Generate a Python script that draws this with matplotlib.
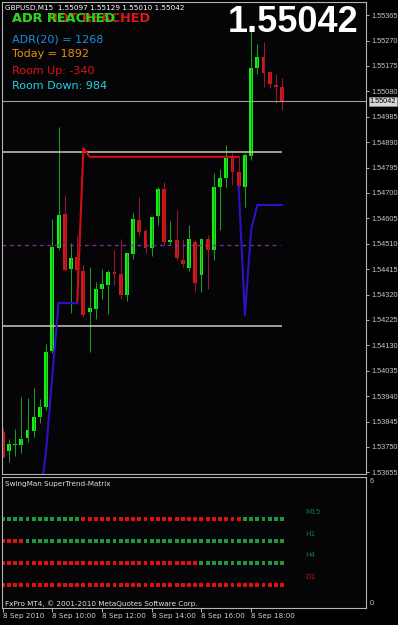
import numpy as np
import matplotlib
matplotlib.use('Agg')
import matplotlib.pyplot as plt
import matplotlib.transforms as mtransforms

W, H = 398, 625

# GBPUSD M15, 8 Sep 2010 08:00 .. 19:15
opens = [1.53806, 1.53735, 1.53756, 1.53757, 1.53783, 1.53810, 1.53863, 1.53898, 1.54109, 1.54495,
         1.54620, 1.54415, 1.54461, 1.54408, 1.54255, 1.54266, 1.54341, 1.54355, 1.54404, 1.54398,
         1.54319, 1.54471, 1.54599, 1.54557, 1.54495, 1.54615, 1.54714, 1.54516, 1.54524, 1.54449,
         1.54419, 1.54517, 1.54393, 1.54526, 1.54486, 1.54723, 1.54757, 1.54835, 1.54779, 1.54723,
         1.54838, 1.55166, 1.55207, 1.55153, 1.55103, 1.55097]
highs = [1.53821, 1.53780, 1.53816, 1.53938, 1.53932, 1.53969, 1.53929, 1.54134, 1.54602, 1.54947,
         1.54692, 1.54514, 1.54540, 1.54430, 1.54424, 1.54367, 1.54414, 1.54412, 1.54486, 1.54526,
         1.54476, 1.54626, 1.54686, 1.54567, 1.54611, 1.54723, 1.54740, 1.54596, 1.54636, 1.54526,
         1.54580, 1.54524, 1.54530, 1.54542, 1.54773, 1.54788, 1.54879, 1.54854, 1.54835, 1.54848,
         1.55328, 1.55257, 1.55265, 1.55157, 1.55144, 1.55129]
lows = [1.53709, 1.53694, 1.53717, 1.53726, 1.53770, 1.53786, 1.53838, 1.53888, 1.54101, 1.54486,
        1.54408, 1.54251, 1.54318, 1.54236, 1.54106, 1.54228, 1.54303, 1.54247, 1.54355, 1.54302,
        1.54297, 1.54452, 1.54539, 1.54476, 1.54465, 1.54580, 1.54505, 1.54505, 1.54449, 1.54424,
        1.54408, 1.54330, 1.54330, 1.54339, 1.54449, 1.54561, 1.54723, 1.54729, 1.54717, 1.54648,
        1.54825, 1.55144, 1.55097, 1.55091, 1.55037, 1.55010]
closes = [1.53712, 1.53761, 1.53762, 1.53781, 1.53813, 1.53863, 1.53900, 1.54105, 1.54499, 1.54618,
          1.54412, 1.54458, 1.54412, 1.54243, 1.54270, 1.54341, 1.54358, 1.54404, 1.54396, 1.54318,
          1.54474, 1.54602, 1.54554, 1.54495, 1.54609, 1.54714, 1.54517, 1.54524, 1.54458, 1.54434,
          1.54526, 1.54362, 1.54526, 1.54486, 1.54723, 1.54754, 1.54831, 1.54779, 1.54727, 1.54842,
          1.55168, 1.55207, 1.55149, 1.55106, 1.55097, 1.55042]

# supertrend lines (None = not drawn)
st_up = [None, None, None, None, None, None, 1.53552, 1.53739, 1.54019, 1.54288,
         1.54288, 1.54288, 1.54288, None, None, None, None, None, None, None,
         None, None, None, None, None, None, None, None, None, None,
         None, None, None, None, None, None, None, None, 1.54723, 1.54243,
         1.54561, 1.54655, 1.54655, 1.54655, 1.54655, 1.54655]
st_dn = [None, None, None, None, None, None, None, None, None, None,
         None, None, 1.54288, 1.54868, 1.54835, 1.54835, 1.54835, 1.54835, 1.54835, 1.54835,
         1.54835, 1.54835, 1.54835, 1.54835, 1.54835, 1.54835, 1.54835, 1.54835, 1.54835, 1.54835,
         1.54835, 1.54835, 1.54835, 1.54835, 1.54835, 1.54835, 1.54835, 1.54835, 1.54835, None,
         None, None, None, None, None, None]

level_hi = 1.54852
level_lo = 1.54203
level_mid = 1.54505

price_ticks = ['1.55365', '1.55270', '1.55175', '1.55080', '1.54985', '1.54890', '1.54795',
               '1.54700', '1.54605', '1.54510', '1.54415', '1.54320', '1.54225', '1.54130',
               '1.54035', '1.53940', '1.53845', '1.53750', '1.53655']
time_bars = [0, 8, 16, 24, 32, 40]
time_labels = ['8 Sep 2010', '8 Sep 10:00', '8 Sep 12:00', '8 Sep 14:00', '8 Sep 16:00', '8 Sep 18:00']

# matrix rows: runs of (state, bars)
matrix_names = ['M15', 'H1', 'H4', 'D1']
matrix_runs = [[('g', 13), ('r', 26), ('g', 7)],
               [('r', 4), ('g', 42)],
               [('r', 32), ('g', 14)],
               [('r', 46)]]

adr_period, adr, today, room_up, room_down = 20, 1268, 1892, -340, 984

BG = '#050507'
GRID = '#b4b4b4'
SMALL = dict(family='DejaVu Sans', fontsize=5.2)
AXF = dict(family='Liberation Sans', fontsize=5.3)


def fx(px):
    return px / W


def fy(py):
    return 1 - py / H


fig = plt.figure(figsize=(W / 100, H / 100), dpi=100, facecolor='black')
ax = fig.add_axes([fx(2), fy(474), (365.7 - 2) / W, (474 - 2) / H])
sub = fig.add_axes([fx(2), fy(607.7), (365.7 - 2) / W, (607.7 - 477) / H])

o = np.array(opens); h = np.array(highs); l = np.array(lows); c = np.array(closes)
x = np.arange(len(o))
up = c >= o
lo_b = np.minimum(o, c)
hb = np.maximum(np.abs(c - o), 0.00004)

ax.set_facecolor(BG)
ax.vlines(x[up], l[up], h[up], color='#1c9c1c', lw=0.75)
ax.vlines(x[~up], l[~up], h[~up], color='#9a1438', lw=0.75)
ax.bar(x[up], hb[up], bottom=lo_b[up], width=0.62, color='#14f014', lw=0)
ax.bar(x[~up], hb[~up], bottom=lo_b[~up], width=0.62, color='#d41a0c', lw=0)

su = np.array([np.nan if v is None else v for v in st_up])
sd = np.array([np.nan if v is None else v for v in st_dn])
ax.plot(x, sd, color='#d01010', lw=1.5, zorder=3)
ax.plot(x, su, color='#2c12c4', lw=1.5, zorder=3)

last = len(o) - 1
ax.hlines([level_hi, level_lo], -0.11, last, color='#cfc8b8', lw=1.1, zorder=2)
ax.hlines(level_mid, -0.11, last - 0.3, color='#8c2aa4', lw=0.9, linestyles=(0, (3, 3)), zorder=2)
ax.axhline(c[-1], color='#a0a0a0', lw=0.8, zorder=2)

ax.set_xlim(-0.11, 58.45)
ax.set_ylim(1.53649, 1.55414)
ax.set_xticks([])
ax.yaxis.tick_right()
ax.set_yticks([float(t) for t in price_ticks])
ax.set_yticklabels(price_ticks, color='#c8c8c8', **AXF)
ax.tick_params(axis='y', length=2.5, width=0.7, color=GRID, pad=1.5)
for s in ax.spines.values():
    s.set_color(GRID)
    s.set_linewidth(0.8)

trans = mtransforms.blended_transform_factory(ax.transAxes, ax.transData)
ax.text(1.0 + 4.0 / 363.7, c[-1], f'{c[-1]:.5f}', transform=trans, va='center', ha='left',
        color='black', bbox=dict(boxstyle='square,pad=0.15', fc='#d8d8d8', ec='#909090', lw=0.5),
        **AXF)

# header texts
fig.text(fx(5), fy(8), f'GBPUSD,M15  {o[-1]:.5f} {h[-1]:.5f} {l[-1]:.5f} {c[-1]:.5f}',
         color='white', va='center', ha='left', **SMALL)
fig.text(fx(12), fy(19), 'ADR NOT REACHED', color='#e01818', fontsize=9.3, fontweight='bold',
         va='center', ha='left')
fig.text(fx(12), fy(19), 'ADR REACHED', color='#18e018', fontsize=9.3, fontweight='bold',
         va='center', ha='left')
fig.text(fx(12), fy(39.5), f'ADR({adr_period}) = {adr}', color='#1e90dc', fontsize=8,
         va='center', ha='left')
fig.text(fx(12), fy(54), f'Today = {today}', color='#e8900a', fontsize=8, va='center', ha='left')
fig.text(fx(12), fy(70.5), f'Room Up: {room_up}', color='#e01414', fontsize=8, va='center', ha='left')
fig.text(fx(12), fy(86), f'Room Down: {room_down}', color='#20d0e0', fontsize=8, va='center', ha='left')
fig.text(fx(358), fy(23), f'{c[-1]:.5f}', color='white', fontsize=26, fontweight='bold',
         family='Liberation Sans', va='center', ha='right')

# sub window
sub.set_facecolor(BG)
rows = [4, 3, 2, 1]
for yv, runs in zip(rows, matrix_runs):
    states = ''.join(st * n for st, n in runs)
    cols = ['#1a9a3a' if st == 'g' else '#e01010' for st in states]
    sub.scatter(x[:len(states)], [yv] * len(states), marker='s', s=8, c=cols, lw=0)
lab_cols = ['#127a3a', '#127a3a', '#127a3a', '#c81010']
for yv, name, lc in zip(rows, matrix_names, lab_cols):
    sub.text(48.7, yv + 0.34, name, color=lc, va='center', ha='left', **SMALL)

sub.set_xlim(-0.11, 58.45)
sub.set_ylim(-0.06, 5.94)
sub.set_yticks([])
sub.set_xticks(time_bars)
sub.set_xticklabels(time_labels, ha='left', color='#d0d0d0', **SMALL)
sub.tick_params(axis='x', length=3, width=0.7, color=GRID, pad=1)
for s in sub.spines.values():
    s.set_color(GRID)
    s.set_linewidth(0.8)

fig.text(fx(5), fy(484), 'SwingMan SuperTrend-Matrix', color='#e0e0e0', va='center', ha='left', **SMALL)
fig.text(fx(5), fy(604), 'FxPro MT4, \u00a9 2001-2010 MetaQuotes Software Corp.', color='#e0e0e0',
         va='center', ha='left', **SMALL)
fig.text(fx(370), fy(481.7), '6', color='#c8c8c8', va='center', ha='left', **AXF)
fig.text(fx(370), fy(603.3), '0', color='#c8c8c8', va='center', ha='left', **AXF)

fig.savefig('out.png', dpi=100, facecolor='black')
